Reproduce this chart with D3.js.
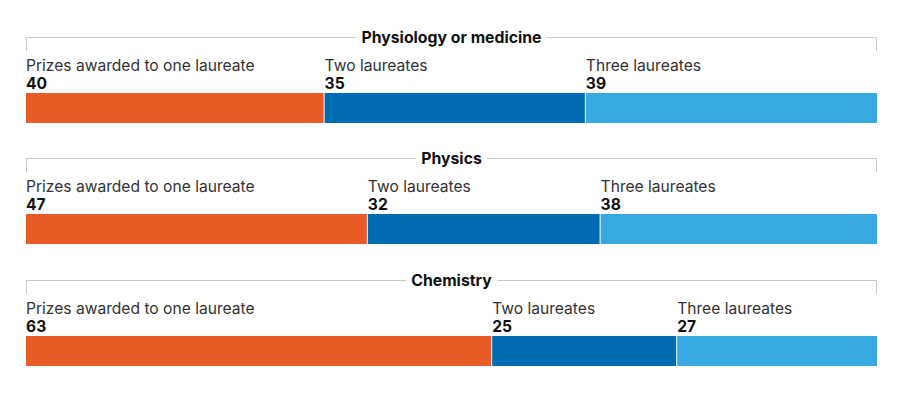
<!DOCTYPE html>
<html><head><meta charset="utf-8">
<script src="https://cdn.jsdelivr.net/npm/d3@7"></script>
<style>body{margin:0;background:#fff;} svg{display:block;font-family:Inter, "Noto Sans", sans-serif;}</style>
</head><body>
<script>
const fields = ["Physiology or medicine", "Physics", "Chemistry"];
const seriesNames = ["Prizes awarded to one laureate", "Two laureates", "Three laureates"];
const oneLaureate = [40, 47, 63];
const twoLaureates = [35, 32, 25];
const threeLaureates = [39, 38, 27];
const colors = ["#e85b27", "#006cb3", "#37a9e0"];

const W = 922, H = 393;
const svg = d3.select("body").append("svg").attr("width", W).attr("height", H);
const left = 26, right = 877;
const panelTop = [37, 158, 280];

fields.forEach((f, i) => {
  const vals = [oneLaureate[i], twoLaureates[i], threeLaureates[i]];
  const total = d3.sum(vals);
  const x = d3.scaleLinear().domain([0, total]).range([left, right]);
  const g = svg.append("g").attr("transform", `translate(0,${panelTop[i]})`);
  const title = g.append("text").attr("x", (left + right) / 2).attr("y", 6)
    .attr("text-anchor", "middle").attr("font-weight", 700).attr("font-size", 15.8)
    .attr("fill", "#111").text(f);
  const bb = title.node().getBBox();
  const gap = 5;
  g.append("path").attr("fill", "none").attr("stroke", "#c8c8c8").attr("stroke-width", 1)
    .attr("d", `M${left + 0.5},${14}V0.5H${bb.x - gap}M${bb.x + bb.width + gap},0.5H${right - 0.5}V14`);
  let cum = 0;
  vals.forEach((v, j) => {
    const x0 = x(cum), x1 = x(cum + v);
    g.append("rect").attr("x", x0).attr("y", 56).attr("width", x1 - x0 - (j < 2 ? 1 : 0)).attr("height", 30)
      .attr("fill", colors[j]);
    g.append("text").attr("x", x0).attr("y", 34).attr("font-size", 15.6).attr("fill", "#333")
      .text(seriesNames[j]);
    g.append("text").attr("x", x0).attr("y", 51.5).attr("font-size", 15.6).attr("font-weight", 700)
      .attr("fill", "#111").text(v);
    cum += v;
  });
});
</script>
</body></html>
